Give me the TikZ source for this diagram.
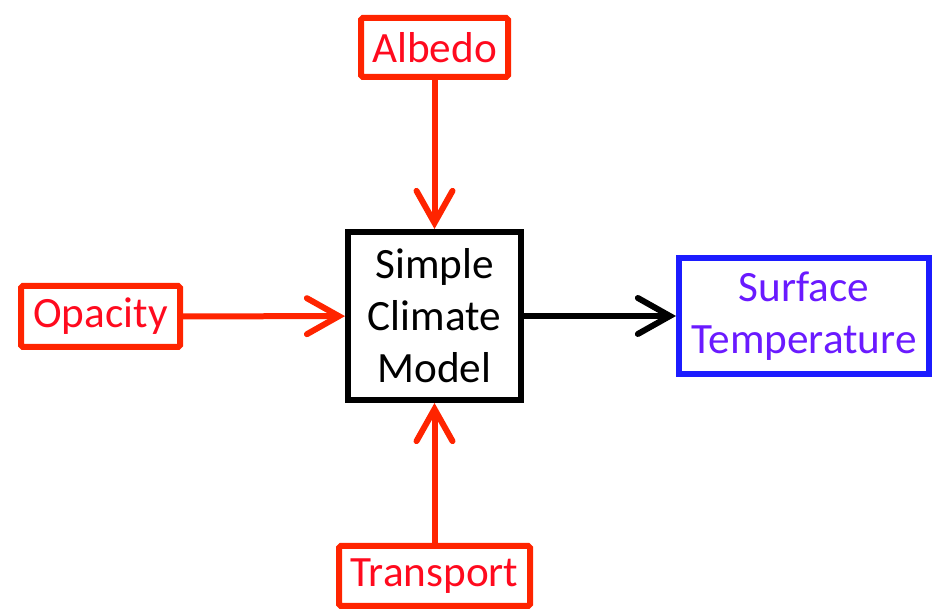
\documentclass[tikz,border=0pt]{standalone}
\usepackage{fontspec}
\setmainfont{Carlito}
\usetikzlibrary{arrows.meta}
\definecolor{scm_red}{RGB}{255,36,0}
\definecolor{scm_redtext}{RGB}{255,10,30}
\definecolor{scm_blue}{RGB}{28,28,255}
\definecolor{scm_purple}{RGB}{106,26,255}
\tikzset{
  inbox/.style={shape=rectangle,draw=scm_red,text=scm_redtext,line width=0.06cm,rounded corners=0.5pt,inner sep=0pt,align=center},
  modelbox/.style={shape=rectangle,draw=black,line width=0.06cm,inner sep=0pt,align=center},
  outbox/.style={shape=rectangle,draw=scm_blue,text=scm_purple,line width=0.06cm,inner sep=0pt,align=center},
  feed/.style={draw=scm_red,line width=0.06cm,-{Straight Barb[length=3.2mm,width=3.6mm,line cap=round]}},
  result/.style={draw=black,line width=0.06cm,-{Straight Barb[length=3.2mm,width=3.6mm,line cap=round]}}
}
\begin{document}
\begin{tikzpicture}
    \useasboundingbox (0,0) rectangle (9.35,6.12);
    \fontsize{12.3}{14.8}\selectfont
    \node[inbox,minimum width=1.47cm,minimum height=0.59cm] (albedo) at (4.345,5.645) {Albedo};
    \node[modelbox,minimum width=1.73cm,minimum height=1.68cm] (model) at (4.345,2.96) {Simple\\Climate\\Model};
    \node[inbox,minimum width=1.59cm,minimum height=0.61cm] (opacity) at (1.005,2.955) {Opacity};
    \node[inbox,minimum width=1.91cm,minimum height=0.60cm] (transport) at (4.345,0.36) {Transport};
    \node[outbox,minimum width=2.50cm,minimum height=1.16cm] (surface) at (8.04,2.96) {Surface\\Temperature};
    \draw[feed] (albedo) -- (model);
    \draw[feed] (opacity) -- (model);
    \draw[feed] (transport) -- (model);
    \draw[result] (model) -- (surface);
\end{tikzpicture}
\end{document}
